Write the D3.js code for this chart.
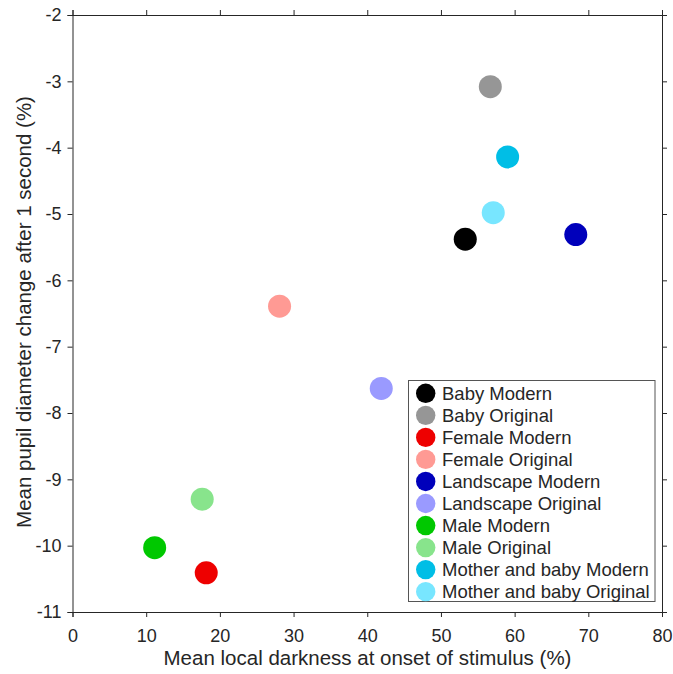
<!DOCTYPE html>
<html><head><meta charset="utf-8">
<script src="https://cdn.jsdelivr.net/npm/d3@7"></script>
<style>body{margin:0;background:#fff}svg{display:block}text{font-family:"Liberation Sans",Arial,sans-serif;fill:#262626}</style>
</head><body><svg id="c" width="673" height="674"></svg>
<script>
const labels = ["Baby Modern","Baby Original","Female Modern","Female Original","Landscape Modern","Landscape Original","Male Modern","Male Original","Mother and baby Modern","Mother and baby Original"];
const xValues = [53.3, 56.7, 18.15, 28.1, 68.3, 41.9, 11.15, 17.6, 59.05, 57.1];
const yValues = [-5.38, -3.08, -10.41, -6.39, -5.31, -7.63, -10.03, -9.30, -4.14, -4.98];
const colors = ["#000000","#969696","#ee0000","#ff9a94","#0000bb","#9a9aff","#00c800","#88e48c","#00bee6","#78e6ff"];
const xTicks = [0,10,20,30,40,50,60,70,80];
const yTicks = [-2,-3,-4,-5,-6,-7,-8,-9,-10,-11];

const svg = d3.select("#c");
const L=72.5, R=662, T=15, B=612;
const x = d3.scaleLinear().domain([0,80]).range([L,R]);
const y = d3.scaleLinear().domain([-11,-2]).range([B,T]);
const axCol="#262626";
const fmt = d => String(d);

const gx = svg.append("g").attr("transform",`translate(0,${B})`).call(d3.axisBottom(x).tickValues(xTicks).tickFormat(fmt).tickSizeOuter(0).tickSize(5).tickPadding(12));
const gxt = svg.append("g").attr("transform",`translate(0,${T})`).call(d3.axisTop(x).tickValues(xTicks).tickSizeOuter(0).tickSize(5).tickFormat(""));
const gy = svg.append("g").attr("transform",`translate(${L},0)`).call(d3.axisLeft(y).tickValues(yTicks).tickFormat(fmt).tickSizeOuter(0).tickSize(5).tickPadding(6));
const gyr = svg.append("g").attr("transform",`translate(${R},0)`).call(d3.axisRight(y).tickValues(yTicks).tickSizeOuter(0).tickSize(5).tickFormat(""));
[gx,gxt,gy,gyr].forEach(g=>{
  g.selectAll("path,line").attr("stroke",axCol).attr("stroke-width",1);
  g.selectAll("text").style("font-size","18px").attr("fill",axCol);
});

svg.append("g").selectAll("circle").data(labels).join("circle")
  .attr("cx",(d,i)=>x(xValues[i])).attr("cy",(d,i)=>y(yValues[i]))
  .attr("r",11.5).attr("fill",(d,i)=>colors[i]);

svg.append("text").attr("x",367.5).attr("y",665).attr("text-anchor","middle").style("font-size","20.5px").text("Mean local darkness at onset of stimulus (%)");
svg.append("text").attr("transform",`translate(31,312) rotate(-90)`).attr("text-anchor","middle").style("font-size","20.5px").text("Mean pupil diameter change after 1 second (%)");

const lg = svg.append("g");
lg.append("rect").attr("x",408.5).attr("y",380.5).attr("width",246.5).attr("height",221).attr("fill","#fff").attr("stroke","#555").attr("stroke-width",1);
const rows = lg.selectAll("g").data(labels).join("g").attr("transform",(d,i)=>`translate(0,${393.3+i*22.04})`);
rows.append("circle").attr("cx",425.7).attr("cy",0).attr("r",9.7).attr("fill",(d,i)=>colors[i]);
rows.append("text").attr("x",442).attr("y",6.5).style("font-size","18.5px").attr("fill","#000").text(d=>d);
</script></body></html>
